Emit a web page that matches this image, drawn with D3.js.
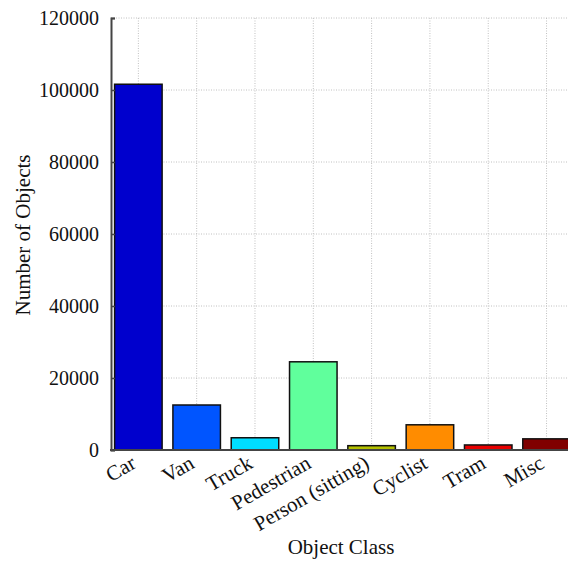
<!DOCTYPE html>
<html>
<head>
<meta charset="utf-8">
<script src="https://cdn.jsdelivr.net/npm/d3@7"></script>
<style>
  html, body { margin: 0; padding: 0; background: #fff; }
  svg { display: block; }
  text { font-family: "Liberation Serif", "DejaVu Serif", serif; fill: #111; }
</style>
</head>
<body>
<div id="chart"></div>
<script>
const categories = ["Car", "Van", "Truck", "Pedestrian", "Person (sitting)", "Cyclist", "Tram", "Misc"];
const counts = [101600, 12500, 3400, 24500, 1200, 7000, 1400, 3100];
const barColors = ["#0000cd", "#0055ff", "#00ddff", "#60ff9c", "#b4c000", "#ff8c00", "#e80000", "#800000"];
const yTicks = [0, 20000, 40000, 60000, 80000, 100000, 120000];
const xTitle = "Object Class";
const yTitle = "Number of Objects";

const W = 568, H = 563;
const plot = { left: 109.2, right: 575.7, top: 18, bottom: 450 };

const svg = d3.select("#chart").append("svg").attr("width", W).attr("height", H);

const x = d3.scaleBand().domain(categories).range([plot.left, plot.right])
  .paddingInner(0.185).paddingOuter(0.0925);
const y = d3.scaleLinear().domain([0, 120000]).range([plot.bottom, plot.top]);

const axisX0 = 111;

// grid
const grid = svg.append("g").attr("stroke", "#c0c0c0").attr("stroke-width", 1).attr("stroke-dasharray", "1,1.5");
grid.selectAll("line.h").data(yTicks.filter(d => d > 0)).join("line")
  .attr("x1", axisX0).attr("x2", W).attr("y1", d => y(d)).attr("y2", d => y(d));
grid.selectAll("line.v").data(categories).join("line")
  .attr("x1", d => x(d) + x.bandwidth() / 2).attr("x2", d => x(d) + x.bandwidth() / 2)
  .attr("y1", y(120000)).attr("y2", y(0));

// bars
svg.append("g").selectAll("rect").data(categories).join("rect")
  .attr("x", d => x(d))
  .attr("width", x.bandwidth())
  .attr("y", (d, i) => y(counts[i]))
  .attr("height", (d, i) => y(0) - y(counts[i]))
  .attr("fill", (d, i) => barColors[i])
  .attr("stroke", "#111").attr("stroke-width", 1.5);

// y axis
const yAxis = d3.axisLeft(y).tickValues(yTicks).tickSize(-4).tickPadding(12).tickFormat(d3.format("d"));
const gy = svg.append("g").attr("transform", `translate(${axisX0},0)`).call(yAxis);
gy.select(".domain").attr("stroke", "#444").attr("stroke-width", 2);
gy.selectAll(".tick line").attr("stroke", "#444").attr("stroke-width", 1.5);
gy.selectAll(".tick text").attr("font-size", 20).attr("fill", "#111")
  .style("font-family", '"Liberation Serif", serif');

// x axis baseline
svg.append("line").attr("x1", axisX0 - 1).attr("x2", W).attr("y1", y(0)).attr("y2", y(0))
  .attr("stroke", "#444").attr("stroke-width", 2);

// x labels
svg.append("g").selectAll("text").data(categories).join("text")
  .attr("transform", d => `translate(${x(d) + x.bandwidth() / 2 - 1},${plot.bottom + 17}) rotate(-30)`)
  .attr("text-anchor", "end")
  .attr("font-size", 21)
  .text(d => d);

// titles
svg.append("text").attr("x", 341).attr("y", 554).attr("text-anchor", "middle")
  .attr("font-size", 21).text(xTitle);
svg.append("text").attr("transform", "translate(30,235) rotate(-90)").attr("text-anchor", "middle")
  .attr("font-size", 21).text(yTitle);
</script>
</body>
</html>
